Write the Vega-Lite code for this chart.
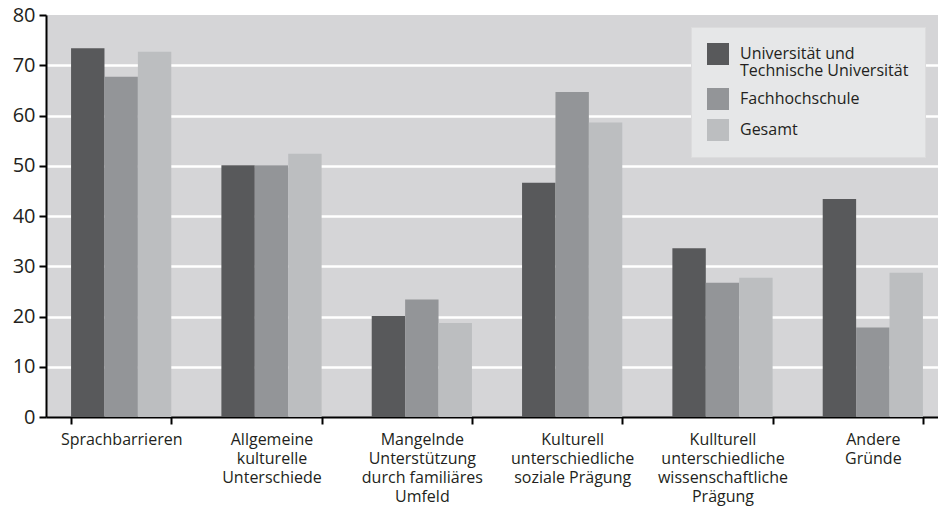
{
  "$schema": "https://vega.github.io/schema/vega-lite/v6.json",
  "width": 892,
  "height": 402,
  "autosize": {"type": "none"},
  "padding": {"left": 46, "top": 15, "right": 0, "bottom": 98},
  "background": "white",
  "config": {
    "view": {"fill": "#d5d5d7", "stroke": null},
    "font": "Open Sans",
    "style": {"guide-label": {"lineHeight": 17}}
  },
  "data": {
    "values": [
      {"reason": "Sprachbarrieren", "group": "Universität und|Technische Universität", "value": 73.4},
      {"reason": "Sprachbarrieren", "group": "Fachhochschule", "value": 67.7},
      {"reason": "Sprachbarrieren", "group": "Gesamt", "value": 72.7},
      {"reason": "Allgemeine|kulturelle|Unterschiede", "group": "Universität und|Technische Universität", "value": 50.1},
      {"reason": "Allgemeine|kulturelle|Unterschiede", "group": "Fachhochschule", "value": 50.1},
      {"reason": "Allgemeine|kulturelle|Unterschiede", "group": "Gesamt", "value": 52.4},
      {"reason": "Mangelnde|Unterstützung|durch familiäres|Umfeld", "group": "Universität und|Technische Universität", "value": 20.1},
      {"reason": "Mangelnde|Unterstützung|durch familiäres|Umfeld", "group": "Fachhochschule", "value": 23.4},
      {"reason": "Mangelnde|Unterstützung|durch familiäres|Umfeld", "group": "Gesamt", "value": 18.7},
      {"reason": "Kulturell|unterschiedliche|soziale Prägung", "group": "Universität und|Technische Universität", "value": 46.6},
      {"reason": "Kulturell|unterschiedliche|soziale Prägung", "group": "Fachhochschule", "value": 64.7},
      {"reason": "Kulturell|unterschiedliche|soziale Prägung", "group": "Gesamt", "value": 58.6},
      {"reason": "Kullturell|unterschiedliche|wissenschaftliche|Prägung", "group": "Universität und|Technische Universität", "value": 33.6},
      {"reason": "Kullturell|unterschiedliche|wissenschaftliche|Prägung", "group": "Fachhochschule", "value": 26.7},
      {"reason": "Kullturell|unterschiedliche|wissenschaftliche|Prägung", "group": "Gesamt", "value": 27.7},
      {"reason": "Andere|Gründe", "group": "Universität und|Technische Universität", "value": 43.4},
      {"reason": "Andere|Gründe", "group": "Fachhochschule", "value": 17.8},
      {"reason": "Andere|Gründe", "group": "Gesamt", "value": 28.7}
    ]
  },
  "mark": {"type": "bar"},
  "encoding": {
    "x": {
      "field": "reason",
      "type": "nominal",
      "sort": null,
      "scale": {"range": [0, 902], "paddingInner": 0.3333, "paddingOuter": 0.1667},
      "axis": {
        "title": null,
        "labelAngle": 0,
        "labelExpr": "split(datum.label, '|')",
        "labelFontSize": 16,
        "labelColor": "#231f20",
        "labelLineHeight": 19,
        "labelPadding": 7,
        "labelBaseline": "top",
        "labelLimit": 0,
        "domainColor": "black",
        "domainWidth": 2,
        "tickBand": "extent",
        "tickColor": "black",
        "tickWidth": 2,
        "tickSize": 7,
        "grid": false
      }
    },
    "xOffset": {
      "field": "group",
      "sort": ["Universität und|Technische Universität", "Fachhochschule", "Gesamt"],
      "scale": {"paddingInner": 0, "paddingOuter": 0}
    },
    "y": {
      "field": "value",
      "type": "quantitative",
      "scale": {"domain": [0, 80], "nice": false},
      "axis": {
        "title": null,
        "values": [0, 10, 20, 30, 40, 50, 60, 70, 80],
        "labelFontSize": 20,
        "labelColor": "#231f20",
        "labelPadding": 4,
        "domainColor": "black",
        "domainWidth": 2,
        "tickColor": "black",
        "tickWidth": 2,
        "tickSize": 7,
        "grid": true,
        "gridColor": {"condition": {"test": "datum.value == 80 || datum.value == 0", "value": null}, "value": "white"},
        "gridWidth": 2.5
      }
    },
    "color": {
      "field": "group",
      "type": "nominal",
      "sort": ["Universität und|Technische Universität", "Fachhochschule", "Gesamt"],
      "scale": {
        "domain": ["Universität und|Technische Universität", "Fachhochschule", "Gesamt"],
        "range": ["#58595b", "#939598", "#bcbec0"]
      },
      "legend": {
        "title": null,
        "orient": "none",
        "legendX": 645,
        "legendY": 12,
        "direction": "vertical",
        "fillColor": "#e6e7e8",
        "strokeColor": "#dcdcdd",
        "padding": 16,
        "symbolType": "square",
        "symbolSize": 484,
        "symbolStrokeWidth": 0,
        "symbolOpacity": 1,
        "labelExpr": "split(datum.label, '|')",
        "labelFontSize": 16,
        "labelColor": "#231f20",
        "labelOffset": 11,
        "labelLimit": 0,
        "rowPadding": 9
      }
    }
  }
}
